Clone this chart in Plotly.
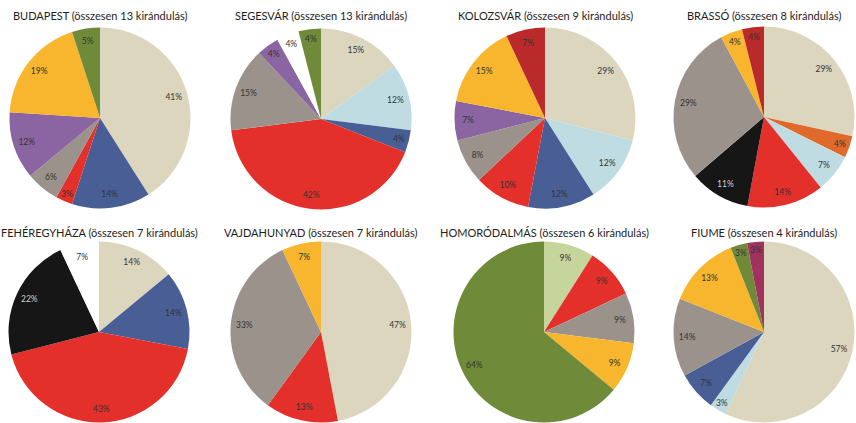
import plotly.graph_objects as go

# ---- data ----
cities = ["BUDAPEST", "SEGESVÁR", "KOLOZSVÁR", "BRASSÓ",
          "FEHÉREGYHÁZA", "VAJDAHUNYAD", "HOMORÓDALMÁS", "FIUME"]
trips = [13, 13, 9, 8, 7, 7, 6, 4]

budapest_vals = [41, 14, 3, 6, 12, 19, 5]
budapest_cats = ["beige", "blue", "red", "gray", "purple", "yellow", "green"]
segesvar_vals = [15, 12, 4, 42, 15, 4, 4, 4]
segesvar_cats = ["beige", "lightblue", "blue", "red", "gray", "purple", "white", "green"]
kolozsvar_vals = [29, 12, 12, 10, 8, 7, 15, 7]
kolozsvar_cats = ["beige", "lightblue", "blue", "red", "gray", "purple", "yellow", "darkred"]
brasso_vals = [29, 4, 7, 14, 11, 29, 4, 4]
brasso_cats = ["beige", "orange", "lightblue", "red", "black", "gray", "yellow", "darkred"]
feheregyhaza_vals = [14, 14, 43, 22, 7]
feheregyhaza_cats = ["beige", "blue", "red", "black", "white"]
vajdahunyad_vals = [47, 13, 33, 7]
vajdahunyad_cats = ["beige", "red", "gray", "yellow"]
homorodalmas_vals = [9, 9, 9, 9, 64]
homorodalmas_cats = ["lightgreen", "red", "gray", "yellow", "green"]
fiume_vals = [57, 3, 7, 14, 13, 3, 3]
fiume_cats = ["beige", "lightblue", "blue", "gray", "yellow", "green", "magenta"]

all_vals = [budapest_vals, segesvar_vals, kolozsvar_vals, brasso_vals,
            feheregyhaza_vals, vajdahunyad_vals, homorodalmas_vals, fiume_vals]
all_cats = [budapest_cats, segesvar_cats, kolozsvar_cats, brasso_cats,
            feheregyhaza_cats, vajdahunyad_cats, homorodalmas_cats, fiume_cats]

# ---- styles ----
palette = {
    "beige": "#DDD6BE", "lightblue": "#BEDCE2", "blue": "#4A5E96", "red": "#E4302B",
    "gray": "#9A928B", "purple": "#8A65A2", "yellow": "#F8B52E", "green": "#6F8B3A",
    "darkred": "#BA2A2A", "orange": "#E06A2B", "black": "#161616",
    "lightgreen": "#C6D59C", "magenta": "#A1325E", "white": "#FFFFFF",
}
W, H = 856, 423
# pie centers (px) and radius, title y (px)
centers = [(100, 118), (321, 119), (545, 118), (764, 117),
           (99, 332), (321, 332), (544, 332), (764, 332)]
R = 90.5
title_y = [15, 15, 15, 15, 232, 232, 232, 232]
LABEL_HOLE = 0.7  # labels sit in a transparent ring at ~0.85 of the radius

fig = go.Figure()
annotations = []
for i, (city, n, vals, cats) in enumerate(zip(cities, trips, all_vals, all_cats)):
    cx, cy = centers[i]
    colors = [palette[c] for c in cats]
    txtcol = ["#D0D0D0" if c == "black" else "#333333" for c in cats]
    y0 = max(0.0, 1 - (cy + R) / H)
    y1 = min(1.0, 1 - (cy - R) / H)
    dom = dict(x=[(cx - R) / W, (cx + R) / W], y=[y0, y1])
    labels = [f"{city}-{k}" for k in range(len(vals))]
    # the filled pie
    fig.add_trace(go.Pie(
        values=vals, labels=labels,
        sort=False, direction="clockwise", rotation=0,
        marker=dict(colors=colors, line=dict(width=0)),
        textinfo="none", hoverinfo="skip", showlegend=False,
        domain=dom,
    ))
    # transparent ring carrying the percentage labels
    fig.add_trace(go.Pie(
        values=vals, labels=labels,
        sort=False, direction="clockwise", rotation=0, hole=LABEL_HOLE,
        marker=dict(colors=["rgba(0,0,0,0)"] * len(vals), line=dict(width=0)),
        texttemplate="%{value}%",
        textposition="inside",
        insidetextorientation="horizontal",
        textfont=dict(family="Lato", size=8.5, color=txtcol),
        hoverinfo="skip", showlegend=False,
        domain=dom,
    ))
    annotations.append(dict(
        text=f"{city} (összesen {n} kirándulás)",
        x=cx / W, y=1 - title_y[i] / H, xref="paper", yref="paper",
        xanchor="center", yanchor="middle", showarrow=False,
        font=dict(family="Lato", size=11, color="#1E1E1E"),
    ))

fig.update_layout(
    width=W, height=H,
    margin=dict(l=0, r=0, t=0, b=0),
    paper_bgcolor="white", plot_bgcolor="white",
    annotations=annotations,
    uniformtext=dict(minsize=8.5, mode="show"),
)
fig.write_html("out.html",
               config={"displayModeBar": False},
               post_script="document.body.style.margin='0';document.body.style.padding='0';")
